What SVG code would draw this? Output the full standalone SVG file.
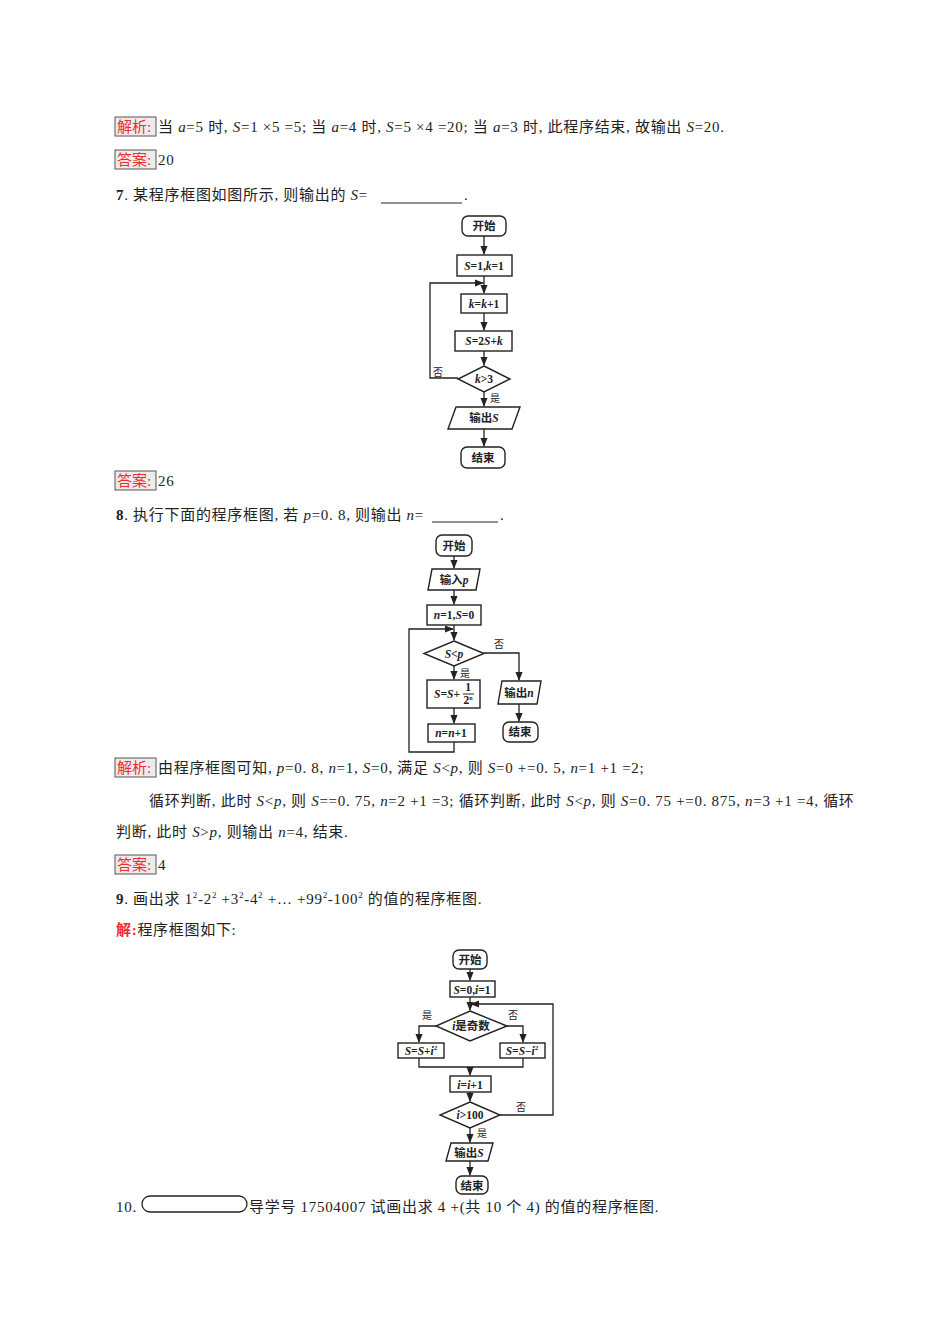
<svg xmlns="http://www.w3.org/2000/svg" width="950" height="1344" viewBox="0 0 950 1344">
<style>
text{font-family:"Liberation Serif","Noto Sans CJK SC",serif;fill:#222}
.t{font-size:15px;letter-spacing:0.7px}
.lab{fill:#ef2b2b;font-size:15px}
.lb{fill:#ececec;stroke:#555;stroke-width:1}
.n{fill:#fff;stroke:#222;stroke-width:1.4}
.f{font-size:11.5px;font-weight:bold;text-anchor:middle}
.s{font-size:10px;text-anchor:middle}
.c{fill:none;stroke:#222;stroke-width:1.3}
</style>
<defs><marker id="a" viewBox="0 0 10 10" refX="9" refY="5" markerWidth="7" markerHeight="7" orient="auto"><path d="M0,1 L10,5 L0,9 z" fill="#222"/></marker></defs>
<g id="text">
<rect class="lb" x="115" y="117" width="41" height="19"/>
<text class="lab" x="117" y="132">解析:</text>
<text class="t" x="158" y="132">当 <tspan font-style="italic">a</tspan>=5 时, <tspan font-style="italic">S</tspan>=1 ×5 =5; 当 <tspan font-style="italic">a</tspan>=4 时, <tspan font-style="italic">S</tspan>=5 ×4 =20; 当 <tspan font-style="italic">a</tspan>=3 时, 此程序结束, 故输出 <tspan font-style="italic">S</tspan>=20.</text>
<rect class="lb" x="115" y="150" width="41" height="19"/>
<text class="lab" x="117" y="165">答案:</text>
<text class="t" x="158" y="165">20</text>
<text class="t" x="116" y="200"><tspan font-weight="bold">7</tspan>. 某程序框图如图所示, 则输出的 <tspan font-style="italic">S</tspan>=</text>
<line x1="381" y1="203" x2="462" y2="203" stroke="#222"/>
<text class="t" x="464" y="200">.</text>
<rect class="lb" x="115" y="471" width="41" height="19"/>
<text class="lab" x="117" y="486">答案:</text>
<text class="t" x="158" y="486">26</text>
<text class="t" x="116" y="520"><tspan font-weight="bold">8</tspan>. 执行下面的程序框图, 若 <tspan font-style="italic">p</tspan>=0. 8, 则输出 <tspan font-style="italic">n</tspan>=</text>
<line x1="432" y1="522" x2="498" y2="522" stroke="#222"/>
<text class="t" x="500" y="520">.</text>
<rect class="lb" x="115" y="758" width="41" height="19"/>
<text class="lab" x="117" y="773">解析:</text>
<text class="t" x="158" y="773">由程序框图可知, <tspan font-style="italic">p</tspan>=0. 8, <tspan font-style="italic">n</tspan>=1, <tspan font-style="italic">S</tspan>=0, 满足 <tspan font-style="italic">S</tspan>&lt;<tspan font-style="italic">p</tspan>, 则 <tspan font-style="italic">S</tspan>=0 +=0. 5, <tspan font-style="italic">n</tspan>=1 +1 =2;</text>
<text class="t" x="149" y="806">循环判断, 此时 <tspan font-style="italic">S</tspan>&lt;<tspan font-style="italic">p</tspan>, 则 <tspan font-style="italic">S</tspan>==0. 75, <tspan font-style="italic">n</tspan>=2 +1 =3; 循环判断, 此时 <tspan font-style="italic">S</tspan>&lt;<tspan font-style="italic">p</tspan>, 则 <tspan font-style="italic">S</tspan>=0. 75 +=0. 875, <tspan font-style="italic">n</tspan>=3 +1 =4, 循环</text>
<text class="t" x="116" y="837">判断, 此时 <tspan font-style="italic">S</tspan>&gt;<tspan font-style="italic">p</tspan>, 则输出 <tspan font-style="italic">n</tspan>=4, 结束.</text>
<rect class="lb" x="115" y="855" width="41" height="19"/>
<text class="lab" x="117" y="870">答案:</text>
<text class="t" x="158" y="870">4</text>
<text class="t" x="116" y="904"><tspan font-weight="bold">9</tspan>. 画出求 1<tspan font-size="9" dy="-6">2</tspan><tspan dy="6">-2</tspan><tspan font-size="9" dy="-6">2</tspan><tspan dy="6"> +3</tspan><tspan font-size="9" dy="-6">2</tspan><tspan dy="6">-4</tspan><tspan font-size="9" dy="-6">2</tspan><tspan dy="6"> +… +99</tspan><tspan font-size="9" dy="-6">2</tspan><tspan dy="6">-100</tspan><tspan font-size="9" dy="-6">2</tspan><tspan dy="6"> 的值的程序框图.</tspan></text>
<text class="t" x="116" y="935"><tspan fill="#ef2b2b" font-weight="bold">解:</tspan>程序框图如下:</text>
<text class="t" x="116" y="1212">10.</text>
<rect x="142" y="1196" width="105" height="16" rx="8" fill="#fff" stroke="#222" stroke-width="1.3"/>
<text class="t" x="249" y="1212">导学号 17504007 试画出求 4 +(共 10 个 4) 的值的程序框图.</text>
</g>
<g id="connectors">
<line class="c" x1="484" y1="236" x2="484" y2="254" marker-end="url(#a)"/>
<line class="c" x1="484" y1="276" x2="484" y2="293" marker-end="url(#a)"/>
<line class="c" x1="484" y1="313" x2="484" y2="330" marker-end="url(#a)"/>
<line class="c" x1="484" y1="351" x2="484" y2="365" marker-end="url(#a)"/>
<polyline class="c" points="458,378 430,378 430,283 483,283" marker-end="url(#a)"/>
<line class="c" x1="484" y1="392" x2="484" y2="406" marker-end="url(#a)"/>
<line class="c" x1="484" y1="429" x2="484" y2="446" marker-end="url(#a)"/>
<line class="c" x1="454" y1="556" x2="454" y2="568" marker-end="url(#a)"/>
<line class="c" x1="454" y1="590" x2="454" y2="604" marker-end="url(#a)"/>
<line class="c" x1="454" y1="625" x2="454" y2="640" marker-end="url(#a)"/>
<polyline class="c" points="454,742 454,752 409,752 409,629 453,629" marker-end="url(#a)"/>
<polyline class="c" points="484,653 519,653 519,680" marker-end="url(#a)"/>
<line class="c" x1="454" y1="666" x2="454" y2="679" marker-end="url(#a)"/>
<line class="c" x1="454" y1="708" x2="454" y2="723" marker-end="url(#a)"/>
<line class="c" x1="519" y1="704" x2="519" y2="721" marker-end="url(#a)"/>
<line class="c" x1="470" y1="969" x2="470" y2="980" marker-end="url(#a)"/>
<line class="c" x1="470" y1="997" x2="470" y2="1010" marker-end="url(#a)"/>
<polyline class="c" points="500,1115 553,1115 553,1004 471,1004" marker-end="url(#a)"/>
<polyline class="c" points="436,1026 419,1026 419,1042" marker-end="url(#a)"/>
<polyline class="c" points="507,1026 523,1026 523,1042" marker-end="url(#a)"/>
<polyline class="c" points="419,1058 419,1067 523,1067 523,1058"/>
<line class="c" x1="470" y1="1067" x2="470" y2="1075" marker-end="url(#a)"/>
<line class="c" x1="470" y1="1092" x2="470" y2="1101" marker-end="url(#a)"/>
<line class="c" x1="470" y1="1128" x2="470" y2="1142" marker-end="url(#a)"/>
<line class="c" x1="470" y1="1161" x2="470" y2="1175" marker-end="url(#a)"/>
<text class="s" x="438" y="376">否</text>
<text class="s" x="495" y="402">是</text>
<text class="s" x="499" y="648">否</text>
<text class="s" x="465" y="677">是</text>
<text class="s" x="427" y="1019">是</text>
<text class="s" x="513" y="1019">否</text>
<text class="s" x="521" y="1111">否</text>
<text class="s" x="482" y="1137">是</text>
</g>
<g id="fc1-start"><rect class="n" x="462" y="216" width="44" height="20" rx="6"/><text class="f" x="484" y="230">开始</text></g>
<g id="fc1-init"><rect class="n" x="457" y="255" width="55" height="21"/><text class="f" x="484" y="270"><tspan font-style="italic">S</tspan>=1,<tspan font-style="italic">k</tspan>=1</text></g>
<g id="fc1-inc"><rect class="n" x="461" y="294" width="46" height="19"/><text class="f" x="484" y="308"><tspan font-style="italic">k</tspan>=<tspan font-style="italic">k</tspan>+1</text></g>
<g id="fc1-s"><rect class="n" x="455" y="331" width="57" height="20"/><text class="f" x="484" y="345"><tspan font-style="italic">S</tspan>=2<tspan font-style="italic">S</tspan>+<tspan font-style="italic">k</tspan></text></g>
<g id="fc1-cond"><polygon class="n" points="484,366 510,379 484,392 458,379"/><text class="f" x="484" y="383"><tspan font-style="italic">k</tspan>&gt;3</text></g>
<g id="fc1-out"><polygon class="n" points="456,407 520,407 512,429 448,429"/><text class="f" x="484" y="422">输出<tspan font-style="italic">S</tspan></text></g>
<g id="fc1-end"><rect class="n" x="461" y="447" width="44" height="21" rx="6"/><text class="f" x="483" y="462">结束</text></g>
<g id="fc2-start"><rect class="n" x="436" y="535" width="36" height="21" rx="6"/><text class="f" x="454" y="550">开始</text></g>
<g id="fc2-in"><polygon class="n" points="432,569 480,569 476,590 428,590"/><text class="f" x="454" y="584">输入<tspan font-style="italic">p</tspan></text></g>
<g id="fc2-init"><rect class="n" x="427" y="605" width="54" height="20"/><text class="f" x="454" y="619"><tspan font-style="italic">n</tspan>=1,<tspan font-style="italic">S</tspan>=0</text></g>
<g id="fc2-cond"><polygon class="n" points="454,641 484,653.5 454,666 424,653.5"/><text class="f" x="454" y="658"><tspan font-style="italic">S</tspan>&lt;<tspan font-style="italic">p</tspan></text></g>
<g id="fc2-s"><rect class="n" x="427" y="680" width="53" height="28"/><text class="f" x="447" y="698"><tspan font-style="italic">S</tspan>=<tspan font-style="italic">S</tspan>+</text><text class="f" x="468" y="691" font-size="9">1</text><line x1="463" y1="694" x2="474" y2="694" stroke="#222"/><text class="f" x="468" y="704" font-size="9">2<tspan font-size="6" dy="-4">n</tspan></text></g>
<g id="fc2-inc"><rect class="n" x="428" y="724" width="47" height="18"/><text class="f" x="451" y="737"><tspan font-style="italic">n</tspan>=<tspan font-style="italic">n</tspan>+1</text></g>
<g id="fc2-out"><polygon class="n" points="502,681 541,681 537,704 498,704"/><text class="f" x="519" y="697">输出<tspan font-style="italic">n</tspan></text></g>
<g id="fc2-end"><rect class="n" x="503" y="722" width="35" height="20" rx="6"/><text class="f" x="520" y="736">结束</text></g>
<g id="fc3-start"><rect class="n" x="453" y="950" width="34" height="19" rx="6"/><text class="f" x="470" y="964">开始</text></g>
<g id="fc3-init"><rect class="n" x="450" y="981" width="45" height="16"/><text class="f" x="472" y="994"><tspan font-style="italic">S</tspan>=0,<tspan font-style="italic">i</tspan>=1</text></g>
<g id="fc3-cond"><polygon class="n" points="470,1011 507,1026 470,1041 436,1026"/><text class="f" x="471" y="1030"><tspan font-style="italic">i</tspan>是奇数</text></g>
<g id="fc3-add"><rect class="n" x="398" y="1043" width="46" height="15"/><text class="f" x="421" y="1055"><tspan font-style="italic">S</tspan>=<tspan font-style="italic">S</tspan>+<tspan font-style="italic">i</tspan><tspan font-size="7" dy="-5">2</tspan></text></g>
<g id="fc3-sub"><rect class="n" x="500" y="1043" width="45" height="15"/><text class="f" x="522" y="1055"><tspan font-style="italic">S</tspan>=<tspan font-style="italic">S</tspan>−<tspan font-style="italic">i</tspan><tspan font-size="7" dy="-5">2</tspan></text></g>
<g id="fc3-inc"><rect class="n" x="450" y="1076" width="41" height="16"/><text class="f" x="470" y="1089"><tspan font-style="italic">i</tspan>=<tspan font-style="italic">i</tspan>+1</text></g>
<g id="fc3-cond2"><polygon class="n" points="470,1102 500,1115 470,1128 440,1115"/><text class="f" x="470" y="1119"><tspan font-style="italic">i</tspan>&gt;100</text></g>
<g id="fc3-out"><polygon class="n" points="451,1143 493,1143 488,1161 446,1161"/><text class="f" x="469" y="1157">输出<tspan font-style="italic">S</tspan></text></g>
<g id="fc3-end"><rect class="n" x="456" y="1176" width="32" height="18" rx="6"/><text class="f" x="472" y="1190">结束</text></g>
</svg>
